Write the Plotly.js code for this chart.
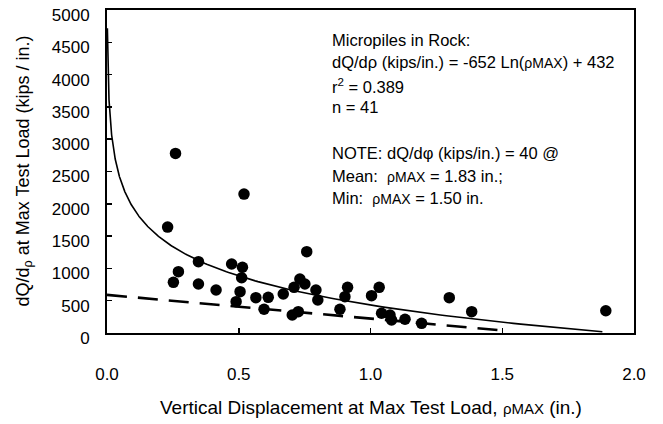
<!DOCTYPE html>
<html>
<head>
<meta charset="utf-8">
<script src="https://cdn.plot.ly/plotly-3.0.1.min.js"></script>
<style>html,body{margin:0;padding:0;background:#fff}#chart{width:663px;height:424px}</style>
</head>
<body>
<div id="chart"></div>
<script>
// Measured data points (vertical displacement at max test load, in.; dQ/dρ, kips/in.)
var rhoMax = [0.26, 0.52, 0.23, 0.347, 0.271, 0.252, 0.347, 0.414, 0.473, 0.514,
              0.511, 0.505, 0.490, 0.565, 0.612, 0.596, 0.669, 0.710, 0.732, 0.751,
              0.758, 0.703, 0.726, 0.793, 0.800, 0.913, 0.903, 0.884, 1.033, 1.004,
              1.042, 1.080, 1.074, 1.131, 1.194, 1.299, 1.384, 1.893];
var dQdRho = [2780, 2150, 1640, 1104, 949, 784, 758, 666, 1068, 1017,
              856, 640, 485, 547, 552, 367, 604, 707, 836, 758,
              1259, 279, 330, 666, 511, 707, 562, 367, 707, 578,
              305, 201, 279, 212, 150, 547, 330, 345];

// Logarithmic trendline coefficients (from the chart's equation)
var trendSlope = [-652];
var trendIntercept = [432];
var trendRange = [0.0014, 1.88];

// Dashed lower-bound line end points
var boundX = [0, 1.5];
var boundY = [590, 40];

var xTicks = [0, 0.5, 1.0, 1.5, 2.0];
var xTickText = ['0.0', '0.5', '1.0', '1.5', '2.0'];
var yTicks = [0, 500, 1000, 1500, 2000, 2500, 3000, 3500, 4000, 4500, 5000];

var tx = [], ty = [];
var n = 400;
var lo = Math.log(trendRange[0]), hi = Math.log(trendRange[1]);
for (var i = 0; i <= n; i++) {
  var xv = Math.exp(lo + (hi - lo) * i / n);
  tx.push(xv);
  ty.push(trendSlope[0] * Math.log(xv) + trendIntercept[0]);
}

var FONT = 'Liberation Sans, Arial, sans-serif';
var small = function (s, sz) { return '<span style="font-size:' + (sz || 14) + 'px">' + s + '</span>'; };

var traces = [
  {x: tx, y: ty, type: 'scatter', mode: 'lines', line: {color: '#000', width: 1.6}, hoverinfo: 'skip'},
  {x: boundX, y: boundY, type: 'scatter', mode: 'lines', line: {color: '#000', width: 2.6, dash: '20px,11px'}, hoverinfo: 'skip'},
  {x: rhoMax, y: dQdRho, type: 'scatter', mode: 'markers', marker: {color: '#000', size: 11.5}}
];

var noteX = 0.846;
var lines = [
  ['Micropiles in Rock:', 40],
  ['dQ/dρ (kips/in.) = -652 Ln(' + small('ρMAX') + ') + 432', 62],
  ['r<sup>2</sup> = 0.389', 86],
  ['n = 41', 107],
  ['NOTE: dQ/dφ (kips/in.) = 40 @', 153],
  ['Mean:  ' + small('ρMAX') + ' = 1.83 in.;', 176],
  ['Min:  ' + small('ρMAX') + ' = 1.50 in.', 198]
];
var annotations = lines.map(function (l) {
  return {xref: 'x', yref: 'paper', x: noteX, y: (333 - l[1]) / 323, xanchor: 'left', yanchor: 'middle',
          text: l[0], showarrow: false, font: {family: FONT, size: 16.5, color: '#000'}};
});
annotations.push({xref: 'paper', yref: 'paper', x: (24 - 107) / 527, y: 0.5, textangle: -90,
  xanchor: 'center', yanchor: 'middle', showarrow: false,
  text: 'dQ/d<sub>ρ</sub> at Max Test Load (kips / in.)', font: {family: FONT, size: 18, color: '#000'}});
annotations.push({xref: 'paper', yref: 'paper', x: 0.5, y: (333 - 407) / 323,
  xanchor: 'center', yanchor: 'middle', showarrow: false,
  text: 'Vertical Displacement at Max Test Load, ' + small('ρMAX', 15) + ' (in.)', font: {family: FONT, size: 19, color: '#000'}});

var layout = {
  width: 663, height: 424,
  margin: {l: 107, r: 29, t: 10, b: 91},
  paper_bgcolor: '#fff', plot_bgcolor: '#fff',
  showlegend: false,
  font: {family: FONT, size: 16, color: '#000'},
  xaxis: {range: [0, 2], tickvals: xTicks, ticktext: xTickText, showgrid: false, zeroline: false,
          showline: true, mirror: true, linecolor: '#000', linewidth: 2,
          ticks: 'inside', ticklen: 5, tickwidth: 1.5, tickcolor: '#000',
          ticklabelstandoff: 25, tickfont: {family: FONT, size: 17}},
  yaxis: {range: [0, 5000], tickvals: yTicks, showgrid: false, zeroline: false,
          showline: true, mirror: true, linecolor: '#000', linewidth: 2,
          ticks: 'inside', ticklen: 5, tickwidth: 1.5, tickcolor: '#000',
          ticklabelstandoff: 12, ticklabelshift: 5, tickfont: {family: FONT, size: 17}},
  annotations: annotations
};

Plotly.newPlot('chart', traces, layout, {staticPlot: true, displayModeBar: false});
</script>
</body>
</html>
